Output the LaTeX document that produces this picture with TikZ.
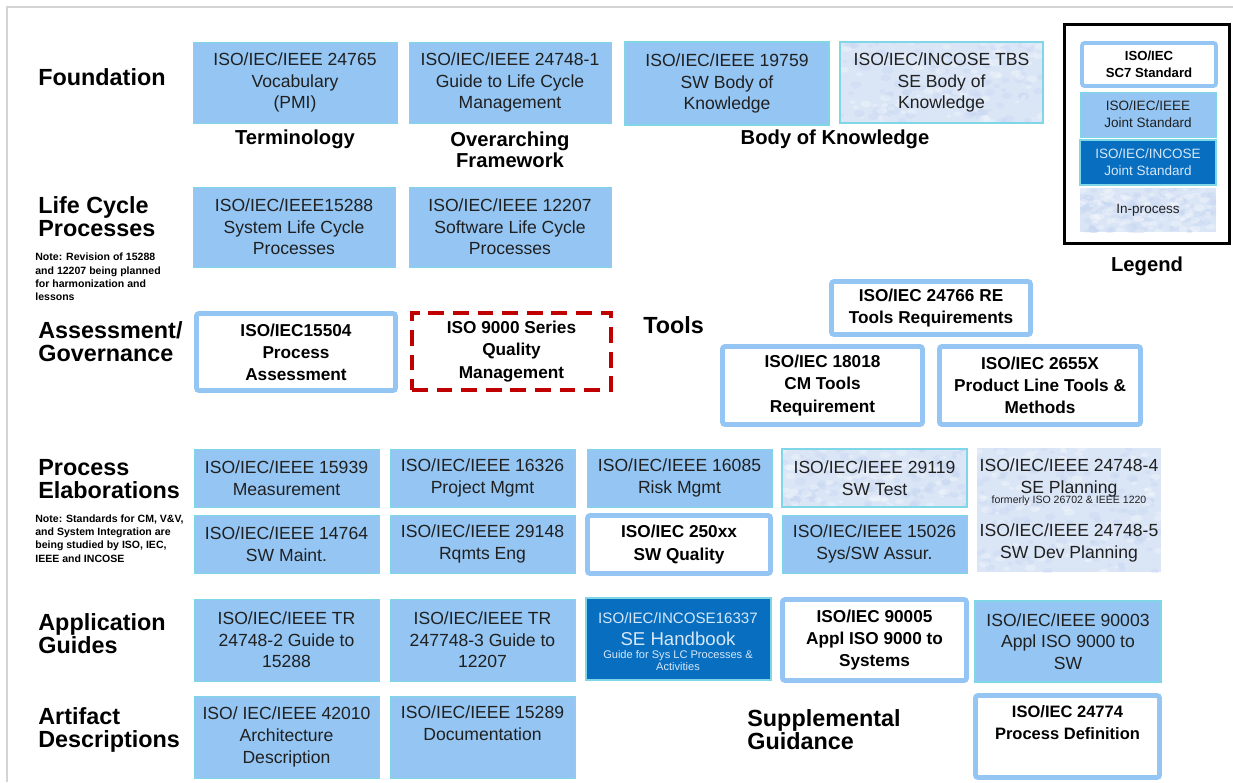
\documentclass[tikz,border=0pt]{standalone}
\usepackage{fontspec}
\setmainfont{Liberation Sans}
\definecolor{lblue}{HTML}{94C5F3}
\definecolor{cyanb}{HTML}{7FD6E6}
\definecolor{dblue}{HTML}{086FC0}
\definecolor{ipfill}{HTML}{DAE5F6}
\definecolor{ipspot}{HTML}{C4D6F1}
\definecolor{txt}{HTML}{202020}
\definecolor{ltxt}{HTML}{D6E7F8}
\definecolor{dred}{HTML}{C00000}
\definecolor{framegray}{HTML}{D4D4D4}
\newcommand{\stdnode}[7]{\node[#1, minimum width={(#5-#3)*0.02cm}, minimum height={(#6-#4)*0.02cm}] (#2) at ({(#3+#5)/2},{(#4+#6)/2}) {#7};}
% mottled "in-process" background
\newcommand{\mottle}[4]{%
  \fill[ipfill] (#1,#2) rectangle (#3,#4);
  \begin{scope}
    \clip (#1,#2) rectangle (#3,#4);
    \foreach \k in {1,...,120}{%
      \pgfmathsetmacro{\mx}{#1+rnd*(#3-#1)}%
      \pgfmathsetmacro{\my}{#2+rnd*(#4-#2)}%
      \pgfmathsetmacro{\mr}{2+rnd*4}%
      \fill[ipspot, opacity=0.35] (\mx,\my) ellipse ({\mr*0.02cm} and {\mr*0.013cm});
    }
    \foreach \k in {1,...,80}{%
      \pgfmathsetmacro{\mx}{#1+rnd*(#3-#1)}%
      \pgfmathsetmacro{\my}{#2+rnd*(#4-#2)}%
      \pgfmathsetmacro{\mr}{2+rnd*4}%
      \fill[white, opacity=0.28] (\mx,\my) ellipse ({\mr*0.02cm} and {\mr*0.012cm});
    }
  \end{scope}}
\tikzset{
  base/.style={align=center, inner sep=0pt, outer sep=0pt, text=txt},
  lb/.style={base, draw=cyanb, fill=lblue, line width=0.5pt, font=\fontsize{10}{12.3}\selectfont},
  lbc/.style={lb, line width=1.1pt},
  ipc/.style={base, draw=cyanb, line width=1.1pt, font=\fontsize{10}{12.3}\selectfont},
  ip/.style={base, font=\fontsize{10}{12.3}\selectfont},
  db/.style={base, draw=cyanb, fill=dblue, line width=0.8pt},
  wb/.style={base, draw=lblue, fill=white, line width=2.8pt, rounded corners=1.5pt, font=\bfseries\fontsize{9.8}{12.6}\selectfont, text=black},
  redbox/.style={base, draw=dred, line width=2.3pt, dash pattern=on 9pt off 5pt, font=\bfseries\fontsize{9.8}{12.6}\selectfont, text=black},
  head/.style={align=left, anchor=west, inner sep=0pt, font=\bfseries\fontsize{13.3}{13.2}\selectfont, text=black},
  subhead/.style={align=center, inner sep=0pt, font=\bfseries\fontsize{11.5}{12}\selectfont, text=black},
  note/.style={align=left, anchor=west, inner sep=0pt, font=\bfseries\fontsize{6}{7.6}\selectfont, text=black},
  intext/.style={align=center, inner sep=0pt, text=txt, font=\fontsize{10}{12.3}\selectfont},
  legendframe/.style={draw=black, line width=1.7pt, inner sep=0pt, outer sep=0pt}
}
\begin{document}
\begin{tikzpicture}[x=0.02cm,y=-0.02cm]
\pgfmathsetseed{4711}
\useasboundingbox (0,0) rectangle (1233,782);
\draw[framegray, line width=0.6pt] (7,782) -- (7,7) -- (1233,7);

% ---------- section headings ----------
\node[head] (hfound) at (38,77) {Foundation};
\node[head] (hlife) at (38,216.5) {Life Cycle\\Processes};
\node[note] (nlife) at (35,277) {Note: Revision of 15288\\and 12207 being planned\\for harmonization and\\lessons};
\node[head] (hassess) at (38,341.5) {Assessment/\\Governance};
\node[head] (htools) at (643,325) {Tools};
\node[head] (hproc) at (38,479) {Process\\Elaborations};
\node[note] (nproc) at (35,538.5) {Note: Standards for CM, V\&V,\\and System Integration are\\being studied by ISO, IEC,\\IEEE and INCOSE};
\node[head] (happ) at (38,633.5) {Application\\Guides};
\node[head] (hart) at (38,730) {Artifact\\Descriptions};
\node[head] (hsupp) at (747,730) {Supplemental\\Guidance};

% ---------- Foundation ----------
\stdnode{lb}{voc}{193}{42}{397}{123}{ISO/IEC/IEEE 24765\\Vocabulary\\(PMI)}
\stdnode{lb}{lcm}{409}{42}{611}{123}{ISO/IEC/IEEE 24748-1\\Guide to Life Cycle\\Management}
\stdnode{lbc}{swbok}{625}{42}{829}{125}{ISO/IEC/IEEE 19759\\SW Body of\\Knowledge}
\mottle{840}{41}{1043}{122}
\stdnode{ipc}{sebok}{840}{42}{1043}{123}{ISO/IEC/INCOSE TBS\\SE Body of\\Knowledge}
\node[subhead] (lterm) at (295,139) {Terminology};
\node[subhead] (lframe) at (510,150) {Overarching\\Framework};
\node[subhead] (lbok) at (835,139) {Body of Knowledge};

% ---------- Life cycle ----------
\stdnode{lb}{slc}{193}{187}{395}{267}{ISO/IEC/IEEE15288\\System Life Cycle\\Processes}
\stdnode{lb}{swlc}{409}{187}{611}{267}{ISO/IEC/IEEE 12207\\Software Life Cycle\\Processes}

% ---------- Assessment / Tools ----------
\stdnode{wb}{pa}{196.5}{313.5}{395.5}{390.5}{ISO/IEC15504\\Process\\Assessment}
\stdnode{redbox}{qm}{412}{313}{611}{390}{ISO 9000 Series\\Quality\\Management}
\stdnode{wb}{re}{831.5}{281.5}{1030.5}{334.5}{ISO/IEC 24766 RE\\Tools Requirements}
\stdnode{wb}{cmt}{722.5}{346.5}{922.5}{424.5}{ISO/IEC 18018\\CM Tools\\Requirement}
\stdnode{wb}{plt}{939.5}{346.5}{1140.5}{424.5}{ISO/IEC 2655X\\Product Line Tools \&\\Methods}

% ---------- Process elaborations ----------
\stdnode{lb}{meas}{194}{449}{379}{507}{ISO/IEC/IEEE 15939\\Measurement}
\stdnode{lb}{pm}{390}{449}{575}{507}{ISO/IEC/IEEE 16326\\Project Mgmt}
\stdnode{lb}{risk}{587}{449}{772}{507}{ISO/IEC/IEEE 16085\\Risk Mgmt}
\mottle{782}{448}{967}{506}
\stdnode{ipc}{test}{782}{449}{967}{507}{ISO/IEC/IEEE 29119\\SW Test}
\mottle{977}{448}{1161}{572}
\stdnode{ip}{plan}{977}{448}{1161}{572}{}
\node[intext] (plan4) at (1069,478) {ISO/IEC/IEEE 24748-4\\SE Planning};
\node[intext, font=\fontsize{6}{7}\selectfont] (plan4n) at (1069,501) {formerly ISO 26702 \& IEEE 1220};
\node[intext] (plan5) at (1069,543) {ISO/IEC/IEEE 24748-5\\SW Dev Planning};
\stdnode{lb}{maint}{194}{515}{379}{573}{ISO/IEC/IEEE 14764\\SW Maint.}
\stdnode{lb}{rqe}{390}{515}{575}{573}{ISO/IEC/IEEE 29148\\Rqmts Eng}
\stdnode{wb}{qual}{587.5}{515.5}{770.5}{573.5}{ISO/IEC 250xx\\SW Quality}
\stdnode{lb}{assur}{782}{515}{967}{573}{ISO/IEC/IEEE 15026\\Sys/SW Assur.}

% ---------- Application guides ----------
\stdnode{lb}{g15288}{194}{599}{379}{681}{ISO/IEC/IEEE TR\\24748-2 Guide to\\15288}
\stdnode{lb}{g12207}{390}{599}{575}{681}{ISO/IEC/IEEE TR\\247748-3 Guide to\\12207}
\stdnode{db}{hbook}{586}{598}{771}{680}{}
\node[intext, text=ltxt, font=\fontsize{8.6}{10}\selectfont] (hb1) at (678,618) {ISO/IEC/INCOSE16337};
\node[intext, text=ltxt, font=\fontsize{10.6}{12}\selectfont] (hb2) at (678,639) {SE Handbook};
\node[intext, text=ltxt, font=\fontsize{6.3}{6.8}\selectfont] (hb3) at (678,661) {Guide for Sys LC Processes \&\\Activities};
\stdnode{wb}{a90005}{782.5}{599.5}{966.5}{680.5}{ISO/IEC 90005\\Appl ISO 9000 to\\Systems}
\stdnode{lbc}{a90003}{975}{601}{1161}{682}{ISO/IEC/IEEE 90003\\Appl ISO 9000 to\\SW}

% ---------- Artifact descriptions ----------
\stdnode{lb}{arch}{194}{696}{379}{778}{ISO/ IEC/IEEE 42010\\Architecture\\Description}
\stdnode{lb}{docu}{390}{696}{575}{778}{ISO/IEC/IEEE 15289\\Documentation\\\strut}
\stdnode{wb, font=\bfseries\fontsize{9.4}{12.4}\selectfont}{pdef}{975.5}{695.5}{1159.5}{777.5}{ISO/IEC 24774\\Process Definition\\\strut}

% ---------- Legend ----------
\stdnode{legendframe}{legend}{1064.5}{24.5}{1229.5}{243.5}{}
\stdnode{wb, line width=2.2pt, font=\bfseries\fontsize{7.5}{9.6}\selectfont}{lsc7}{1082}{43}{1216}{86}{ISO/IEC\\SC7 Standard}
\stdnode{lb, font=\fontsize{7.7}{9.6}\selectfont}{lieee}{1080}{92}{1216}{137}{ISO/IEC/IEEE\\Joint Standard}
\stdnode{db, text=ltxt, font=\fontsize{7.7}{9.6}\selectfont}{lincose}{1080}{140}{1216}{185}{ISO/IEC/INCOSE\\Joint Standard}
\mottle{1080}{188}{1216}{232}
\stdnode{ip, font=\fontsize{7.7}{9.6}\selectfont}{linproc}{1080}{188}{1216}{232}{In-process}
\node[subhead] (llegend) at (1147,266) {Legend};
\end{tikzpicture}
\end{document}
